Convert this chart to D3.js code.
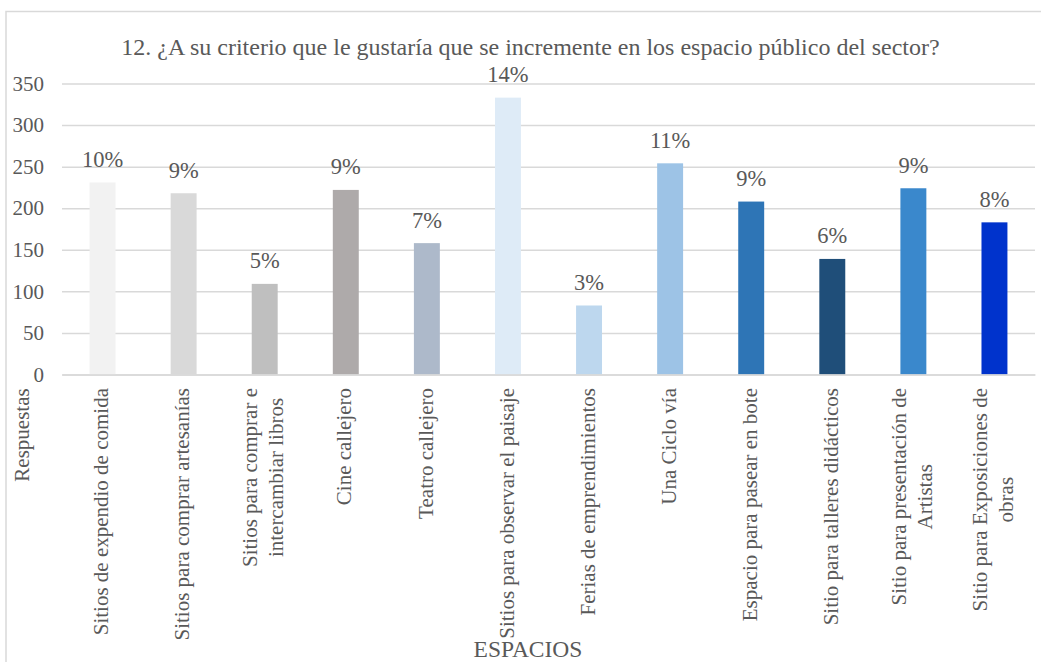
<!DOCTYPE html>
<html>
<head>
<meta charset="utf-8">
<script src="https://cdn.jsdelivr.net/npm/d3@7"></script>
<style>
  html, body { margin: 0; padding: 0; background: #fff; }
  svg { display: block; }
  text { font-family: "Liberation Serif", "Times New Roman", serif; fill: #595959; }
</style>
</head>
<body>
<svg id="chart" width="1041" height="662"></svg>
<script>
const categories = [
  "Sitios de expendio de comida",
  "Sitios para comprar artesanías",
  "Sitios para comprar e\nintercambiar libros",
  "Cine callejero",
  "Teatro callejero",
  "Sitios para observar el paisaje",
  "Ferias de emprendimientos",
  "Una Ciclo vía",
  "Espacio para pasear en bote",
  "Sitio para talleres didácticos",
  "Sitio para presentación de\nArtistas",
  "Sitio para Exposiciones de\nobras"
];
const values = [231, 218, 109, 222, 158, 333, 83, 254, 208, 139, 224, 183];
const pctLabels = ["10%", "9%", "5%", "9%", "7%", "14%", "3%", "11%", "9%", "6%", "9%", "8%"];
const colors = ["#f2f2f2", "#d9d9d9", "#bfbfbf", "#aeaaaa", "#adb9ca", "#deebf7",
                "#bdd7ee", "#9dc3e6", "#2e75b6", "#1f4e79", "#3a88cc", "#0033cc"];
const yTicks = [0, 50, 100, 150, 200, 250, 300, 350];
const title = "12. ¿A su criterio que le gustaría que se incremente en los espacio público del sector?";
const yTitle = "Respuestas";
const xTitle = "ESPACIOS";

const svg = d3.select("#chart");
const W = 1041, H = 662;
const plot = { left: 62, right: 1035, top: 83.5, bottom: 374.5 };

// chart border
svg.append("path")
  .attr("d", `M6,${H + 5} L6,11.5 L${W + 5},11.5`)
  .attr("fill", "none").attr("stroke", "#d9d9d9").attr("stroke-width", 1.5);

const x = d3.scaleBand().domain(categories).range([plot.left, plot.right]).paddingInner(0.68).paddingOuter(0.34);
const y = d3.scaleLinear().domain([0, 350]).range([plot.bottom, plot.top]);

// gridlines + y labels
const yAxis = svg.append("g").attr("transform", `translate(${plot.left},0)`)
  .call(d3.axisLeft(y).tickValues(yTicks).tickSize(-(plot.right - plot.left)).tickPadding(18).tickFormat(d3.format("d")));
yAxis.select(".domain").remove();
yAxis.selectAll(".tick line").attr("stroke", "#d9d9d9").attr("stroke-width", 1.5);
yAxis.selectAll(".tick text").attr("font-size", "21px").attr("fill", "#595959")
  .style("font-family", '"Liberation Serif", "Times New Roman", serif');

// bars
svg.append("g").selectAll("rect").data(values).join("rect")
  .attr("x", (d, i) => x(categories[i]))
  .attr("width", x.bandwidth())
  .attr("y", d => y(d))
  .attr("height", d => y(0) - y(d))
  .attr("fill", (d, i) => colors[i]);

// data labels
svg.append("g").selectAll("text").data(values).join("text")
  .attr("x", (d, i) => x(categories[i]) + x.bandwidth() / 2)
  .attr("y", d => y(d) - 15.5)
  .attr("text-anchor", "middle")
  .attr("font-size", "22.5px")
  .text((d, i) => pctLabels[i]);

// x axis
const xAxis = svg.append("g").attr("transform", `translate(0,${plot.bottom})`)
  .call(d3.axisBottom(x).tickSize(0).tickFormat(""));
xAxis.select(".domain").attr("stroke", "#d9d9d9").attr("stroke-width", 1.5);

const fs = 21, lh = 26, labelTop = 388;
xAxis.selectAll(".tick").each(function(cat) {
  const lines = cat.split("\n");
  const g = d3.select(this);
  const t = g.append("text")
    .attr("font-size", fs + "px")
    .attr("fill", "#595959")
    .style("font-family", '"Liberation Serif", "Times New Roman", serif')
    .attr("text-anchor", "middle");
  lines.forEach((ln, i) => {
    t.append("tspan").text(ln);
  });
  let maxLen = 0;
  t.selectAll("tspan").each(function() { maxLen = Math.max(maxLen, this.getComputedTextLength()); });
  const n = lines.length;
  const mid = (labelTop - plot.bottom) + maxLen / 2;
  t.attr("transform", `rotate(-90)`);
  t.selectAll("tspan").each(function(d, i) {
    d3.select(this)
      .attr("x", -mid)
      .attr("y", 0.27 * fs + (i - (n - 1) / 2) * lh);
  });
});

// title
svg.append("text").attr("x", 530.5).attr("y", 55).attr("text-anchor", "middle")
  .attr("font-size", "24px").text(title);

// axis titles
svg.append("text").attr("transform", "translate(29,435) rotate(-90)").attr("text-anchor", "middle")
  .attr("font-size", "21px").text(yTitle);
svg.append("text").attr("x", 528).attr("y", 657).attr("text-anchor", "middle")
  .attr("font-size", "23.5px").text(xTitle);
</script>
</body>
</html>
